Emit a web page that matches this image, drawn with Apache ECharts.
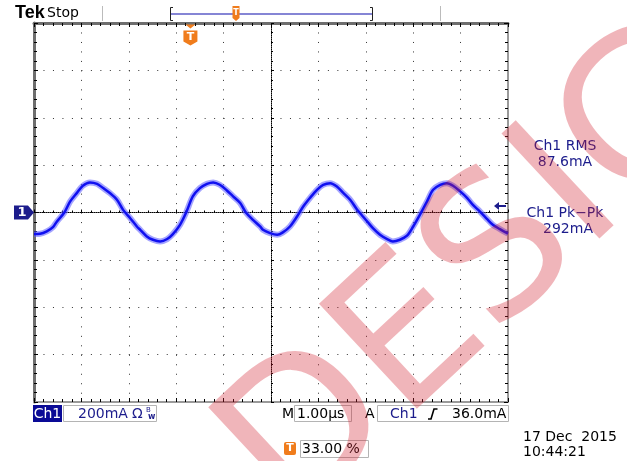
<!DOCTYPE html>
<html><head><meta charset="utf-8">
<script src="https://cdn.jsdelivr.net/npm/echarts/dist/echarts.min.js"></script>
<style>html,body{margin:0;padding:0;background:#fff}#c{width:627px;height:461px}</style>
</head><body><div id="c"></div>
<script>
// time relative to screen centre (µs), 1 µs / div
const timeUs = [-5.00,-4.87,-4.73,-4.60,-4.52,-4.36,-4.24,-4.09,-3.97,-3.82,-3.67,-3.54,-3.40,-3.25,-3.12,-2.97,-2.83,-2.76,-2.62,-2.49,-2.34,-2.19,-2.07,-1.92,-1.79,-1.65,-1.50,-1.35,-1.22,-1.08,-0.93,-0.80,-0.65,-0.53,-0.38,-0.23,-0.17,-0.02,0.13,0.25,0.40,0.55,0.68,0.82,0.97,1.10,1.25,1.39,1.52,1.67,1.81,1.94,2.03,2.15,2.30,2.45,2.57,2.72,2.87,3.00,3.14,3.29,3.42,3.57,3.71,3.84,3.99,4.14,4.26,4.41,4.56,4.68,4.83,4.98,5.00];
// Ch1 current (mA), 200 mA / div
const currentMA = [-91,-90,-80,-62,-39,0,46,84,113,127,121,103,82,54,11,-24,-59,-73,-101,-115,-122,-112,-91,-52,0,68,103,121,127,117,93,68,40,0,-31,-59,-73,-87,-94,-84,-59,-17,25,61,96,117,124,110,84,54,14,-17,-38,-66,-94,-112,-122,-115,-98,-59,-10,46,96,117,124,113,89,61,32,4,-28,-52,-70,-87,-89];
const xRange = [-5, 5];
const yRange = [-800, 800];
const yInterval = 200;
const triggerPosUs = -1.7;     // 33.00 % of record
const triggerLevelMA = 36;
const scaleText = '200mA';
const timebaseText = '1.00µs';
const trigLevelText = '36.0mA';
const trigPosText = '33.00 %';
const measLabels = ['Ch1 RMS', '87.6mA', 'Ch1 Pk\u2212Pk', '292mA'];
const dateText = ['17 Dec  2015', '10:44:21'];

const NAVY = '#1c1c8c';
const ORANGE = '#f07c1c';
const F = 'DejaVu Sans';
const pairs = timeUs.map((t, i) => [t, currentMA[i]]);

function xAx(pos, onZero, lineStyle, extra) {
  return Object.assign({
    type: 'value', min: xRange[0], max: xRange[1], interval: 1, position: pos,
    axisLine: { show: true, onZero: onZero, lineStyle: lineStyle },
    axisTick: { show: true, inside: true, length: 4, lineStyle: { color: '#000' } },
    minorTick: { show: true, splitNumber: 5, length: 3, lineStyle: { color: '#000' } },
    axisLabel: { show: false }, splitLine: { show: false }
  }, extra || {});
}
function yAx(pos, onZero, lineStyle, extra) {
  return Object.assign({
    type: 'value', min: yRange[0], max: yRange[1], interval: yInterval, position: pos,
    axisLine: { show: true, onZero: onZero, lineStyle: lineStyle },
    axisTick: { show: true, inside: true, length: 4, lineStyle: { color: '#000' } },
    minorTick: { show: true, splitNumber: 5, length: 3, lineStyle: { color: '#000' } },
    axisLabel: { show: false }, splitLine: { show: false }
  }, extra || {});
}
const dotted = { show: true, lineStyle: { color: '#333', width: 1, type: [1, 8.48] } };

const chart = echarts.init(document.getElementById('c'));
const option = {
  animation: false,
  grid: { left: 34, top: 23, width: 474, height: 379, show: false },
  xAxis: [
    xAx('bottom', true, { color: '#000', width: 1, type: [1, 1] }, { splitLine: dotted, axisTick: { show: true, inside: true, length: 3, lineStyle: { color: '#000' } }, minorTick: { show: true, splitNumber: 5, length: 2, lineStyle: { color: '#000' } } }),
    xAx('top', false, { color: '#6e6e6e', width: 3 }),
    xAx('bottom', false, { color: '#9a9a9a', width: 2 })
  ],
  yAxis: [
    yAx('left', true, { color: '#000', width: 1, type: [1, 1] }, { splitLine: dotted, axisTick: { show: true, inside: true, length: 3, lineStyle: { color: '#000' } }, minorTick: { show: true, splitNumber: 5, length: 2, lineStyle: { color: '#000' } } }),
    yAx('left', false, { color: '#6e6e6e', width: 3 }),
    yAx('right', false, { color: '#9a9a9a', width: 2 })
  ],
  series: [
    { type: 'line', data: pairs, xAxisIndex: 0, yAxisIndex: 0, showSymbol: false, smooth: 0.3,
      lineStyle: { color: 'rgba(90,90,255,0.55)', width: 6 }, z: 3, silent: true },
    { type: 'line', data: pairs, xAxisIndex: 0, yAxisIndex: 0, showSymbol: false, smooth: 0.3,
      lineStyle: { color: '#1010f0', width: 2.5 }, z: 4, silent: true,
      markPoint: {
        silent: true, animation: false,
        data: [
          { coord: [xRange[0], 0], symbol: 'path://M0,0 L14,0 L20,7 L14,14 L0,14 Z', symbolSize: [20, 14], symbolOffset: [-10, 0],
            itemStyle: { color: NAVY }, label: { show: true, formatter: '1', color: '#fff', fontWeight: 'bold', fontSize: 13, fontFamily: F, offset: [-2, 0] } },
          { coord: [xRange[1], triggerLevelMA], symbol: 'path://M0,4 L5,0 L5,3 L12,3 L12,5 L5,5 L5,8 Z', symbolSize: [12, 8], symbolOffset: [-8, 2],
            itemStyle: { color: NAVY }, label: { show: false } },
          { coord: [triggerPosUs, yRange[1]], symbol: 'path://M2,0 L12,0 L7,4 Z M0,6 L14,6 L14,17 L7,21 L0,17 Z', symbolSize: [14, 21], symbolOffset: [0, 12],
            itemStyle: { color: ORANGE }, label: { show: true, formatter: 'T', color: '#fff', fontWeight: 'bold', fontSize: 11, fontFamily: F, offset: [0, 2] } }
        ]
      } }
  ],
  graphic: [
    { type: 'text', x: 15, y: 13, style: { text: 'Tek', font: 'bold 18px "Liberation Sans"', fill: '#000', verticalAlign: 'middle' } },
    { type: 'text', x: 47, y: 13, style: { text: 'Stop', font: '14px "DejaVu Sans"', fill: '#000', verticalAlign: 'middle' } },
    { type: 'line', shape: { x1: 102.5, y1: 6, x2: 102.5, y2: 21 }, style: { stroke: '#bbb', lineWidth: 1 } },
    { type: 'line', shape: { x1: 440.5, y1: 6, x2: 440.5, y2: 21 }, style: { stroke: '#bbb', lineWidth: 1 } },
    { type: 'line', shape: { x1: 171, y1: 14, x2: 372, y2: 14 }, style: { stroke: '#8585d5', lineWidth: 2 } },
    { type: 'polyline', shape: { points: [[173, 7.5], [170.5, 7.5], [170.5, 20.5], [173, 20.5]] }, style: { stroke: '#222', lineWidth: 1, fill: null } },
    { type: 'polyline', shape: { points: [[370, 7.5], [372.5, 7.5], [372.5, 20.5], [370, 20.5]] }, style: { stroke: '#222', lineWidth: 1, fill: null } },
    { type: 'polygon', shape: { points: [[232.5, 6], [239.5, 6], [239.5, 18], [236, 21], [232.5, 18]] }, style: { fill: ORANGE } },
    { type: 'text', x: 236, y: 13, style: { text: 'T', font: 'bold 8px "DejaVu Sans"', fill: '#fff', align: 'center', verticalAlign: 'middle' } },

    // measurements
    { type: 'text', x: 565, y: 146, style: { text: measLabels[0], font: '14px "DejaVu Sans"', fill: NAVY, align: 'center', verticalAlign: 'middle' } },
    { type: 'text', x: 565, y: 162, style: { text: measLabels[1], font: '14px "DejaVu Sans"', fill: NAVY, align: 'center', verticalAlign: 'middle' } },
    { type: 'text', x: 565, y: 213, style: { text: measLabels[2], font: '14px "DejaVu Sans"', fill: NAVY, align: 'center', verticalAlign: 'middle' } },
    { type: 'text', x: 568, y: 229, style: { text: measLabels[3], font: '14px "DejaVu Sans"', fill: NAVY, align: 'center', verticalAlign: 'middle' } },

    // status bar
    { type: 'rect', shape: { x: 33, y: 405, width: 29, height: 17 }, style: { fill: '#0a0a96' } },
    { type: 'text', x: 47.5, y: 414, style: { text: 'Ch1', font: '14px "DejaVu Sans"', fill: '#fff', align: 'center', verticalAlign: 'middle' } },
    { type: 'rect', shape: { x: 63.5, y: 405.5, width: 93, height: 16 }, style: { fill: null, stroke: '#b4b4b4', lineWidth: 1 } },
    { type: 'text', x: 78, y: 414, style: { text: scaleText, font: '14px "DejaVu Sans"', fill: NAVY, verticalAlign: 'middle' } },
    { type: 'text', x: 132, y: 414, style: { text: 'Ω', font: '14px "DejaVu Sans"', fill: NAVY, verticalAlign: 'middle' } },
    { type: 'text', x: 146, y: 410, style: { text: 'B', font: '7px "DejaVu Sans"', fill: NAVY, verticalAlign: 'middle' } },
    { type: 'text', x: 148, y: 417, style: { text: 'w', font: 'bold 8px "DejaVu Sans"', fill: NAVY, verticalAlign: 'middle' } },
    { type: 'text', x: 282, y: 414, style: { text: 'M', font: '14px "DejaVu Sans"', fill: '#000', verticalAlign: 'middle' } },
    { type: 'rect', shape: { x: 294.5, y: 405.5, width: 57, height: 16 }, style: { fill: null, stroke: '#b4b4b4', lineWidth: 1 } },
    { type: 'text', x: 297, y: 414, style: { text: timebaseText, font: '14px "DejaVu Sans"', fill: '#000', verticalAlign: 'middle' } },
    { type: 'text', x: 365, y: 414, style: { text: 'A', font: '14px "DejaVu Sans"', fill: '#000', verticalAlign: 'middle' } },
    { type: 'rect', shape: { x: 377.5, y: 405.5, width: 131, height: 16 }, style: { fill: null, stroke: '#b4b4b4', lineWidth: 1 } },
    { type: 'text', x: 390, y: 414, style: { text: 'Ch1', font: '14px "DejaVu Sans"', fill: NAVY, verticalAlign: 'middle' } },
    { type: 'polyline', shape: { points: [[428, 419], [431, 419], [434, 409], [437.5, 409]] }, style: { stroke: '#000', lineWidth: 1.6, fill: null } },
    { type: 'text', x: 452, y: 414, style: { text: trigLevelText, font: '14px "DejaVu Sans"', fill: '#000', verticalAlign: 'middle' } },
    { type: 'rect', shape: { x: 284, y: 442, width: 12, height: 13, r: 2 }, style: { fill: ORANGE } },
    { type: 'text', x: 290, y: 448.5, style: { text: 'T', font: 'bold 11px "DejaVu Sans"', fill: '#fff', align: 'center', verticalAlign: 'middle' } },
    { type: 'rect', shape: { x: 300.5, y: 440.5, width: 68, height: 17 }, style: { fill: null, stroke: '#b4b4b4', lineWidth: 1 } },
    { type: 'text', x: 302, y: 449, style: { text: trigPosText, font: '14px "DejaVu Sans"', fill: '#000', verticalAlign: 'middle' } },
    { type: 'text', x: 523, y: 437, style: { text: dateText[0], font: '14px "DejaVu Sans"', fill: '#000', verticalAlign: 'middle' } },
    { type: 'text', x: 523, y: 452, style: { text: dateText[1], font: '14px "DejaVu Sans"', fill: '#000', verticalAlign: 'middle' } },

    // watermark
    { type: 'text', x: 257, y: 488, rotation: 43 * Math.PI / 180, z: 100, silent: true,
      style: { text: 'DESIGN', font: '197px "DejaVu Sans"', fill: 'rgba(210,30,45,0.33)', verticalAlign: 'middle' } }
  ]
};
chart.setOption(option);
</script>
</body></html>
